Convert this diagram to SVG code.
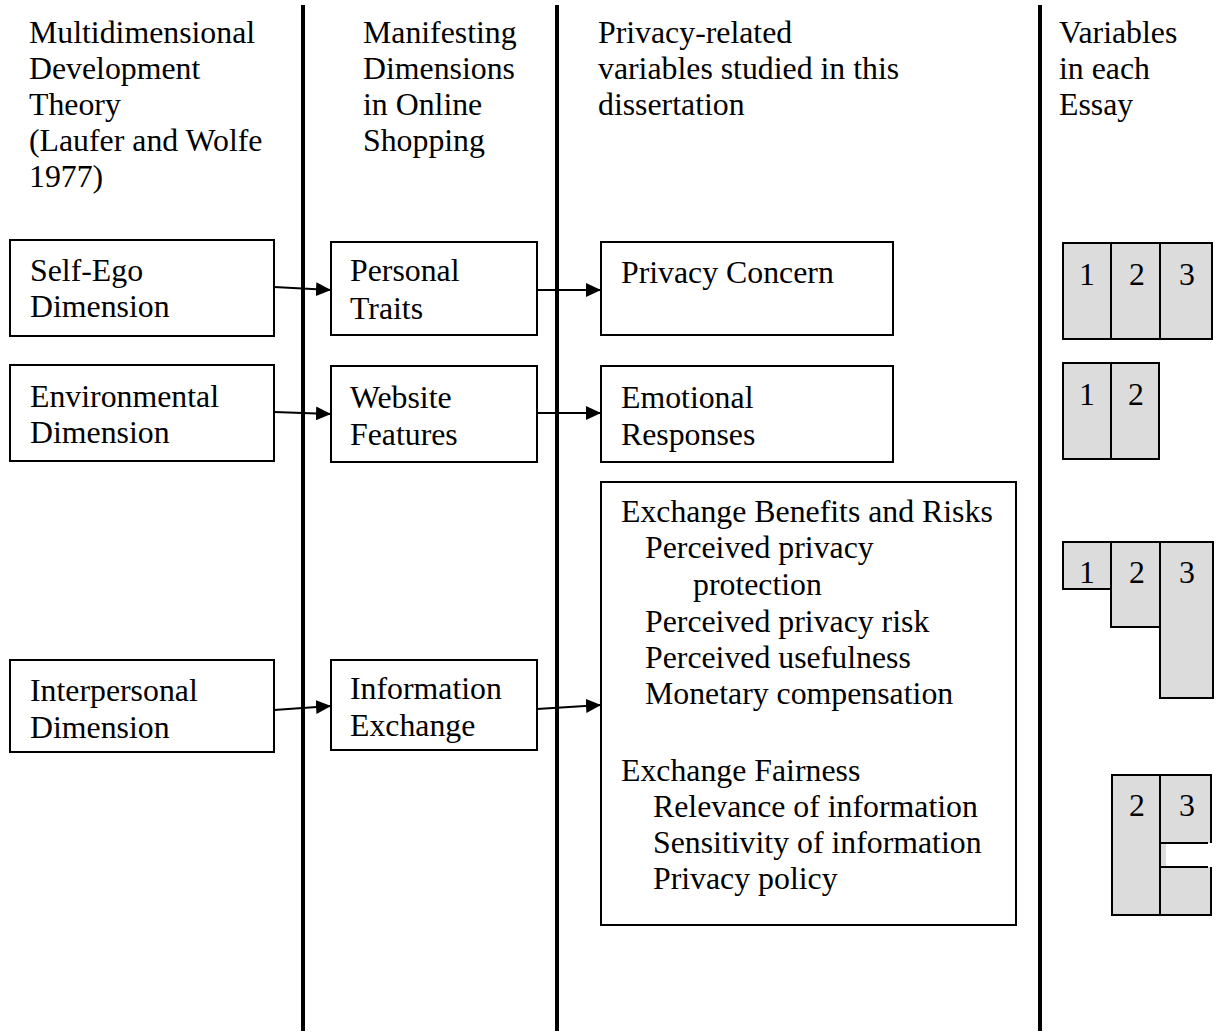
<svg xmlns="http://www.w3.org/2000/svg" width="1220" height="1034" viewBox="0 0 1220 1034">
  <style>
    text { font-family: 'Liberation Serif', 'Tinos', 'Times New Roman', 'DejaVu Serif', serif; font-size: 31.8px; fill: #000; }
    .box { fill: #fff; stroke: #000; stroke-width: 2; }
    .cell { fill: #dcdcdc; stroke: #000; stroke-width: 2; }
    .divider { stroke: #000; stroke-width: 4; }
    .edge { stroke: #000; stroke-width: 2; fill: none; marker-end: url(#arrow); }
    .num { text-anchor: middle; }
  </style>
  <defs>
    <marker id="arrow" markerUnits="userSpaceOnUse" markerWidth="16" markerHeight="14" refX="15" refY="7" orient="auto">
      <path d="M0,0 L15,7 L0,14 Z" fill="#000"/>
    </marker>
  </defs>

  <rect width="1220" height="1034" fill="#fff"/>

  <!-- column dividers -->
  <g id="dividers">
    <line class="divider" x1="303" y1="5" x2="303" y2="1031"/>
    <line class="divider" x1="557" y1="5" x2="557" y2="1031"/>
    <line class="divider" x1="1040" y1="5" x2="1040" y2="1031"/>
  </g>

  <!-- column headings -->
  <g id="heading-theory">
    <text x="29" y="43">Multidimensional</text>
    <text x="29" y="79">Development</text>
    <text x="29" y="115">Theory</text>
    <text x="29" y="151">(Laufer and Wolfe</text>
    <text x="29" y="187">1977)</text>
  </g>
  <g id="heading-manifesting">
    <text x="363" y="43">Manifesting</text>
    <text x="363" y="79">Dimensions</text>
    <text x="363" y="115">in Online</text>
    <text x="363" y="151">Shopping</text>
  </g>
  <g id="heading-variables">
    <text x="598" y="43">Privacy-related</text>
    <text x="598" y="79">variables studied in this</text>
    <text x="598" y="115">dissertation</text>
  </g>
  <g id="heading-essay">
    <text x="1059" y="43">Variables</text>
    <text x="1059" y="79">in each</text>
    <text x="1059" y="115">Essay</text>
  </g>

  <!-- dimensions -->
  <g id="self-ego">
    <rect class="box" x="10" y="240" width="264" height="96"/>
    <text x="30" y="281">Self-Ego</text>
    <text x="30" y="317">Dimension</text>
  </g>
  <g id="environmental">
    <rect class="box" x="10" y="365" width="264" height="96"/>
    <text x="30" y="407">Environmental</text>
    <text x="30" y="443">Dimension</text>
  </g>
  <g id="interpersonal">
    <rect class="box" x="10" y="660" width="264" height="92"/>
    <text x="30" y="701">Interpersonal</text>
    <text x="30" y="738">Dimension</text>
  </g>

  <!-- online shopping manifestations -->
  <g id="personal-traits">
    <rect class="box" x="331" y="242" width="206" height="93"/>
    <text x="350" y="281">Personal</text>
    <text x="350" y="319">Traits</text>
  </g>
  <g id="website-features">
    <rect class="box" x="331" y="366" width="206" height="96"/>
    <text x="350" y="408">Website</text>
    <text x="350" y="445">Features</text>
  </g>
  <g id="information-exchange">
    <rect class="box" x="331" y="660" width="206" height="90"/>
    <text x="350" y="699">Information</text>
    <text x="350" y="736">Exchange</text>
  </g>

  <!-- privacy-related variables -->
  <g id="privacy-concern">
    <rect class="box" x="601" y="242" width="292" height="93"/>
    <text x="621" y="283">Privacy Concern</text>
  </g>
  <g id="emotional-responses">
    <rect class="box" x="601" y="366" width="292" height="96"/>
    <text x="621" y="408">Emotional</text>
    <text x="621" y="445">Responses</text>
  </g>
  <g id="exchange-variables">
    <rect class="box" x="601" y="482" width="415" height="443"/>
    <text x="621" y="522">Exchange Benefits and Risks</text>
    <text x="645" y="558">Perceived privacy</text>
    <text x="693" y="595">protection</text>
    <text x="645" y="632">Perceived privacy risk</text>
    <text x="645" y="668">Perceived usefulness</text>
    <text x="645" y="704">Monetary compensation</text>
    <text x="621" y="781">Exchange Fairness</text>
    <text x="653" y="817">Relevance of information</text>
    <text x="653" y="853">Sensitivity of information</text>
    <text x="653" y="889">Privacy policy</text>
  </g>

  <!-- essay coverage -->
  <g id="essays-privacy-concern">
    <rect class="cell" x="1063" y="243" width="48" height="96"/>
    <rect class="cell" x="1111" y="243" width="49" height="96"/>
    <rect class="cell" x="1160" y="243" width="52" height="96"/>
    <text class="num" x="1087" y="285">1</text>
    <text class="num" x="1137" y="285">2</text>
    <text class="num" x="1187" y="285">3</text>
  </g>
  <g id="essays-emotional">
    <rect class="cell" x="1063" y="363" width="48" height="96"/>
    <rect class="cell" x="1111" y="363" width="48" height="96"/>
    <text class="num" x="1087" y="405">1</text>
    <text class="num" x="1136" y="405">2</text>
  </g>
  <g id="essays-benefits-risks">
    <rect class="cell" x="1063" y="542" width="48" height="47"/>
    <rect class="cell" x="1111" y="542" width="49" height="85"/>
    <rect class="cell" x="1160" y="542" width="53" height="156"/>
    <text class="num" x="1087" y="583">1</text>
    <text class="num" x="1137" y="583">2</text>
    <text class="num" x="1187" y="583">3</text>
  </g>
  <g id="essays-fairness">
    <rect class="cell" x="1112" y="775" width="48" height="140"/>
    <path d="M1160,775 H1211 V843 H1166 V867 H1211 V915 H1160 Z" fill="#dcdcdc"/>
    <path d="M1160,775 H1211 V843 M1160,843 H1208 M1160,867 H1208 M1211,867 V915 H1160" fill="none" stroke="#000" stroke-width="2"/>
    <line x1="1160" y1="775" x2="1160" y2="915" stroke="#000" stroke-width="2"/>
    <text class="num" x="1137" y="816">2</text>
    <text class="num" x="1187" y="816">3</text>
  </g>

  <!-- connectors -->
  <g id="connectors">
    <line class="edge" x1="274" y1="287" x2="331" y2="290"/>
    <line class="edge" x1="537" y1="290" x2="601" y2="290"/>
    <line class="edge" x1="274" y1="412" x2="331" y2="414"/>
    <line class="edge" x1="537" y1="413" x2="601" y2="413"/>
    <line class="edge" x1="274" y1="710" x2="331" y2="706"/>
    <line class="edge" x1="537" y1="709" x2="601" y2="705"/>
  </g>
</svg>
